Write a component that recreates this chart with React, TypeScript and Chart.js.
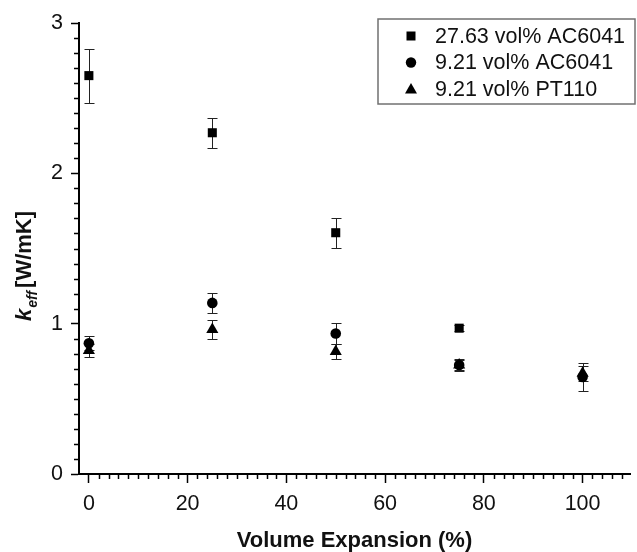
import React, { useEffect, useRef } from 'react';
import { Chart, registerables } from 'chart.js';

Chart.register(...registerables);

// ---- data ----
const expansionHighAC = [0, 25, 50, 75];
const keffHighAC = [2.65, 2.27, 1.605, 0.97];
const errHighAC = [0.18, 0.1, 0.1, 0.02];

const expansionLowAC = [0, 25, 50, 75, 100];
const keffLowAC = [0.87, 1.138, 0.935, 0.725, 0.645];
const errLowAC = [0.045, 0.067, 0.072, 0.035, 0.092];

const expansionPT = [0, 25, 50, 75, 100];
const keffPT = [0.822, 0.962, 0.815, 0.725, 0.67];
const errPT = [0.042, 0.062, 0.052, 0.04, 0.05];

const seriesLabels = ['27.63 vol% AC6041', '9.21 vol% AC6041', '9.21 vol% PT110'];
const xTickValues = [0, 20, 40, 60, 80, 100];
const yTickValues = [0, 1, 2, 3];

const FONT = '"Liberation Sans", Arial, Helvetica, sans-serif';

const toPoints = (xs: number[], ys: number[], es: number[]) =>
  xs.map((x, i) => ({ x, y: ys[i], err: es[i] }));

const decor = {
  id: 'decor',
  beforeDatasetsDraw(chart: any) {
    const { ctx, scales } = chart;
    const x = scales.x;
    const y = scales.y;
    ctx.save();
    ctx.strokeStyle = '#222';
    ctx.lineWidth = 1;
    chart.data.datasets.forEach((ds: any) => {
      ds.data.forEach((p: any) => {
        const px = Math.round(x.getPixelForValue(p.x)) + 0.5;
        const top = Math.round(y.getPixelForValue(p.y + p.err)) + 0.5;
        const bot = Math.round(y.getPixelForValue(p.y - p.err)) + 0.5;
        ctx.beginPath();
        ctx.moveTo(px, top);
        ctx.lineTo(px, bot);
        ctx.moveTo(px - 5, top);
        ctx.lineTo(px + 5, top);
        ctx.moveTo(px - 5, bot);
        ctx.lineTo(px + 5, bot);
        ctx.stroke();
      });
    });
    ctx.restore();
  },
  afterDraw(chart: any) {
    const { ctx, scales, chartArea } = chart;
    const x = scales.x;
    const y = scales.y;
    ctx.save();
    // minor ticks
    ctx.strokeStyle = '#000';
    ctx.lineWidth = 1.5;
    ctx.beginPath();
    for (let i = 1; i < 30; i++) {
      if (i % 10 === 0) continue;
      const py = Math.round(y.getPixelForValue(i / 10)) + 0.5;
      ctx.moveTo(chartArea.left, py);
      ctx.lineTo(chartArea.left - 5, py);
    }
    for (let v = -2; v <= 108; v += 2) {
      if (v % 20 === 0) continue;
      const px = Math.round(x.getPixelForValue(v)) + 0.5;
      if (px <= chartArea.left + 1) continue;
      ctx.moveTo(px, chartArea.bottom);
      ctx.lineTo(px, chartArea.bottom + 5);
    }
    ctx.stroke();

    // legend
    ctx.strokeStyle = '#707070';
    ctx.lineWidth = 1.5;
    ctx.strokeRect(378, 19, 257, 85);
    const rowsY = [36, 62.5, 89];
    ctx.fillStyle = '#000';
    // square
    ctx.fillRect(411 - 4.5, rowsY[0] - 4.5, 9, 9);
    // circle
    ctx.beginPath();
    ctx.arc(411, rowsY[1], 5.2, 0, Math.PI * 2);
    ctx.fill();
    // triangle
    ctx.beginPath();
    ctx.moveTo(411, rowsY[2] - 6);
    ctx.lineTo(417, rowsY[2] + 4.5);
    ctx.lineTo(405, rowsY[2] + 4.5);
    ctx.closePath();
    ctx.fill();
    ctx.font = `21.5px ${FONT}`;
    ctx.textBaseline = 'middle';
    ctx.textAlign = 'left';
    ctx.fillStyle = '#111';
    seriesLabels.forEach((t, i) => ctx.fillText(t, 435, rowsY[i] + 1));

    // x title
    ctx.font = `bold 22px ${FONT}`;
    ctx.textAlign = 'center';
    ctx.textBaseline = 'middle';
    ctx.fillText('Volume Expansion (%)', (chartArea.left + chartArea.right) / 2, 541);

    // y title with italic k and subscript eff
    ctx.translate(31, 266);
    ctx.rotate(-Math.PI / 2);
    ctx.textAlign = 'left';
    ctx.textBaseline = 'alphabetic';
    const f1 = `bold italic 22px ${FONT}`;
    const f2 = `bold italic 14px ${FONT}`;
    const f3 = `bold 22px ${FONT}`;
    ctx.font = f1;
    const w1 = ctx.measureText('k').width;
    ctx.font = f2;
    const w2 = ctx.measureText('eff').width;
    ctx.font = f3;
    const w3 = ctx.measureText('[W/mK]').width;
    const gap = 3;
    const total = w1 + 1 + w2 + gap + w3;
    let cx = -total / 2;
    ctx.font = f1;
    ctx.fillText('k', cx, 0);
    cx += w1 + 1;
    ctx.font = f2;
    ctx.fillText('eff', cx, 6);
    cx += w2 + gap;
    ctx.font = f3;
    ctx.fillText('[W/mK]', cx, 0);
    ctx.restore();
  },
};

export default function App() {
  const ref = useRef<HTMLCanvasElement | null>(null);
  useEffect(() => {
    if (!ref.current) return;
    const chart = new Chart(ref.current, {
      type: 'scatter',
      data: {
        datasets: [
          {
            label: seriesLabels[0],
            data: toPoints(expansionHighAC, keffHighAC, errHighAC),
            pointStyle: 'rect',
            pointRadius: 6.4,
            backgroundColor: '#000',
            borderColor: '#000',
            borderWidth: 0,
          },
          {
            label: seriesLabels[1],
            data: toPoints(expansionLowAC, keffLowAC, errLowAC),
            pointStyle: 'circle',
            pointRadius: 5.3,
            backgroundColor: '#000',
            borderColor: '#000',
            borderWidth: 0,
          },
          {
            label: seriesLabels[2],
            data: toPoints(expansionPT, keffPT, errPT),
            pointStyle: 'triangle',
            pointRadius: 7,
            backgroundColor: '#000',
            borderColor: '#000',
            borderWidth: 0,
          },
        ] as any,
      },
      options: {
        animation: false,
        responsive: false,
        events: [],
        layout: { padding: { top: 23, left: 0, right: 0, bottom: 0 } },
        plugins: { legend: { display: false }, tooltip: { enabled: false } },
        scales: {
          x: {
            type: 'linear',
            min: -2,
            max: 109.6,
            afterBuildTicks: (s: any) => {
              s.ticks = xTickValues.map((v) => ({ value: v }));
            },
            afterFit: (s: any) => {
              s.height = 78;
            },
            border: { display: true, color: '#000', width: 2 },
            grid: { drawOnChartArea: false, drawTicks: true, tickLength: 9, tickWidth: 1.5, tickColor: '#000' },
            ticks: { color: '#111', font: { family: FONT, size: 21.5 }, padding: 8, maxRotation: 0 },
          },
          y: {
            type: 'linear',
            min: 0,
            max: 3,
            afterBuildTicks: (s: any) => {
              s.ticks = yTickValues.map((v) => ({ value: v }));
            },
            afterFit: (s: any) => {
              s.width = 79;
            },
            border: { display: true, color: '#000', width: 2 },
            grid: { drawOnChartArea: false, drawTicks: true, tickLength: 8, tickWidth: 1.5, tickColor: '#000' },
            ticks: { color: '#111', font: { family: FONT, size: 21.5 }, padding: 8 },
          },
        },
      },
      plugins: [decor],
    });
    return () => chart.destroy();
  }, []);
  return (
    <div style={{ position: 'fixed', left: 0, top: 0, width: 637, height: 552, background: '#fff' }}>
      <canvas ref={ref} width={637} height={552} style={{ display: 'block' }} />
    </div>
  );
}
